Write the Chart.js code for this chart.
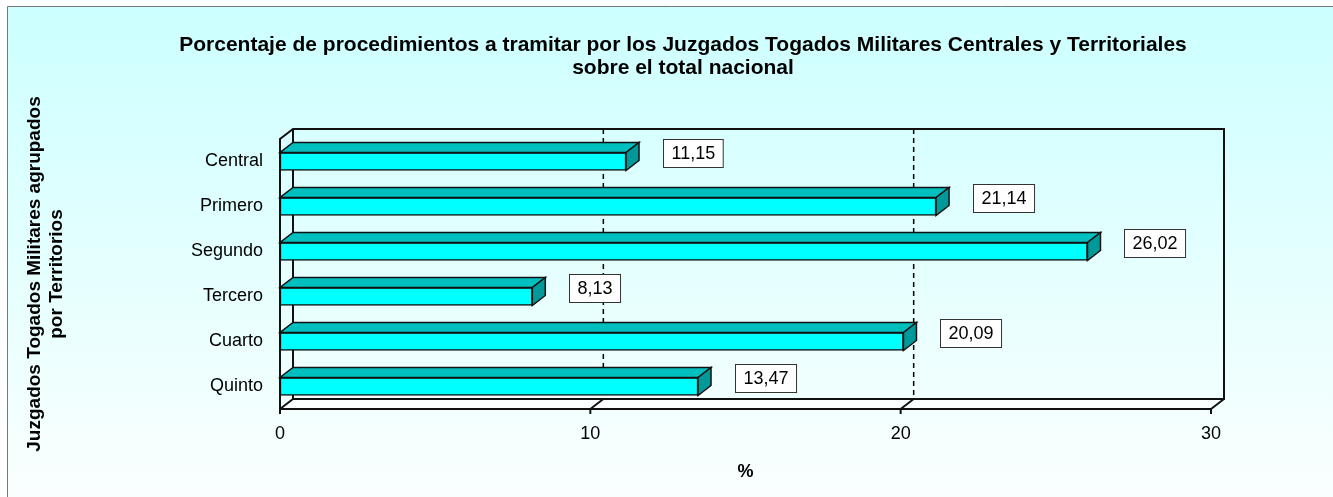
<!DOCTYPE html>
<html>
<head>
<meta charset="utf-8">
<script src="https://cdn.jsdelivr.net/npm/chart.js@4.4.0/dist/chart.umd.min.js"></script>
<style>
  html, body { margin: 0; padding: 0; background: #fff; overflow: hidden; }
  #wrap { position: relative; width: 1333px; height: 497px; }
</style>
</head>
<body>
<div id="wrap"><canvas id="grafico"></canvas></div>
<script>
// datos
const territorios = ['Central', 'Primero', 'Segundo', 'Tercero', 'Cuarto', 'Quinto'];
const porcentajes = [11.15, 21.14, 26.02, 8.13, 20.09, 13.47];
const xMin = 0;
const xMax = 30;
const xPaso = 10;

const tituloGrafico = ['Porcentaje de procedimientos a tramitar por los Juzgados Togados Militares Centrales y Territoriales', 'sobre el total nacional'];
const tituloEjeY = ['Juzgados Togados Militares agrupados', 'por Territorios'];
const tituloEjeX = '%';

const FUENTE = '"Liberation Sans", Arial, sans-serif';
Chart.defaults.font.family = FUENTE;
Chart.defaults.font.size = 18;
Chart.defaults.color = '#000';

// profundidad del efecto 3D
const DX = 13, DY = 10;

function formatoES(v) {
    return v.toFixed(2).replace('.', ',');
}

const efecto3d = {
    id: 'efecto3d',
    beforeDraw(chart) {
        const ctx = chart.ctx;
        const w = chart.width, h = chart.height;
        ctx.save();
        ctx.fillStyle = '#fff';
        ctx.fillRect(0, 0, w, h);
        const grad = ctx.createLinearGradient(0, 6, 0, h);
        grad.addColorStop(0, '#ccffff');
        grad.addColorStop(1, '#fafffe');
        ctx.fillStyle = grad;
        ctx.fillRect(7, 6, w - 7, h - 6);
        ctx.strokeStyle = '#777';
        ctx.lineWidth = 1;
        ctx.beginPath();
        ctx.moveTo(7.5, h);
        ctx.lineTo(7.5, 6.5);
        ctx.lineTo(w, 6.5);
        ctx.stroke();
        ctx.restore();
    },
    beforeDatasetsDraw(chart) {
        const ctx = chart.ctx;
        const { left, right, top, bottom } = chart.chartArea;
        const xs = chart.scales.x;
        ctx.save();
        // suelo
        ctx.fillStyle = 'rgba(255,255,255,0.7)';
        ctx.beginPath();
        ctx.moveTo(left, bottom);
        ctx.lineTo(right, bottom);
        ctx.lineTo(right + DX, bottom - DY);
        ctx.lineTo(left + DX, bottom - DY);
        ctx.closePath();
        ctx.fill();

        // lineas de division punteadas en la pared del fondo
        ctx.strokeStyle = '#000';
        ctx.lineWidth = 1.5;
        ctx.setLineDash([5, 4]);
        for (let v = xMin + xPaso; v < xMax; v += xPaso) {
            const px = xs.getPixelForValue(v) + DX;
            ctx.beginPath();
            ctx.moveTo(px, top - DY);
            ctx.lineTo(px, bottom - DY);
            ctx.stroke();
        }
        ctx.setLineDash([]);

        // aristas de las paredes
        ctx.strokeStyle = '#111';
        ctx.lineWidth = 2;
        ctx.beginPath();
        ctx.moveTo(left, bottom);
        ctx.lineTo(left, top);
        ctx.lineTo(left + DX, top - DY);
        ctx.lineTo(right + DX, top - DY);
        ctx.lineTo(right + DX, bottom - DY);
        ctx.lineTo(left + DX, bottom - DY);
        ctx.lineTo(left + DX, top - DY);
        ctx.moveTo(left, bottom);
        ctx.lineTo(right, bottom);
        ctx.stroke();

        for (let v = xMin; v <= xMax; v += xPaso) {
            const px = xs.getPixelForValue(v);
            ctx.beginPath();
            ctx.moveTo(px, bottom);
            ctx.lineTo(px + DX, bottom - DY);
            ctx.moveTo(px, bottom);
            ctx.lineTo(px, bottom + 5);
            ctx.stroke();
        }
        ctx.restore();
    },
    afterDatasetsDraw(chart) {
        const ctx = chart.ctx;
        const meta = chart.getDatasetMeta(0);
        ctx.save();
        ctx.lineWidth = 1.5;
        ctx.strokeStyle = '#111';
        meta.data.forEach((bar, i) => {
            const x0 = bar.base, x1 = bar.x;
            const yT = bar.y - bar.height / 2, yB = bar.y + bar.height / 2;
            // cara superior
            ctx.fillStyle = '#00bfbf';
            ctx.beginPath();
            ctx.moveTo(x0, yT);
            ctx.lineTo(x1, yT);
            ctx.lineTo(x1 + DX, yT - DY);
            ctx.lineTo(x0 + DX, yT - DY);
            ctx.closePath();
            ctx.fill();
            ctx.stroke();
            // cara lateral
            ctx.fillStyle = '#009999';
            ctx.beginPath();
            ctx.moveTo(x1, yT);
            ctx.lineTo(x1 + DX, yT - DY);
            ctx.lineTo(x1 + DX, yB - DY);
            ctx.lineTo(x1, yB);
            ctx.closePath();
            ctx.fill();
            ctx.stroke();

            // etiqueta con el valor
            const txt = formatoES(porcentajes[i]);
            ctx.font = '18px ' + FUENTE;
            const tw = ctx.measureText(txt).width;
            const bw = tw + 16, bh = 28;
            const bx = Math.round(x1 + 37) + 0.5;
            const by = Math.round(bar.y - 9 - bh / 2) + 0.5;
            ctx.fillStyle = '#fff';
            ctx.fillRect(bx, by, bw, bh);
            ctx.lineWidth = 1;
            ctx.strokeStyle = '#333';
            ctx.strokeRect(bx, by, bw, bh);
            ctx.fillStyle = '#000';
            ctx.textAlign = 'center';
            ctx.textBaseline = 'middle';
            ctx.fillText(txt, bx + bw / 2, by + bh / 2 + 1);
            ctx.lineWidth = 1.5;
            ctx.strokeStyle = '#111';
        });
        ctx.restore();
    }
};

const chartConfig = {
    type: 'bar',
    data: {
        labels: territorios,
        datasets: [{
            label: 'Porcentaje',
            data: porcentajes,
            backgroundColor: '#00ffff',
            borderColor: '#111',
            borderWidth: 1.5,
            borderSkipped: false,
            barThickness: 18
        }]
    },
    options: {
        indexAxis: 'y',
        responsive: true,
        maintainAspectRatio: false,
        animation: false,
        layout: {
            padding: { left: 33, right: 0, top: 0, bottom: 0 }
        },
        plugins: {
            legend: { display: false },
            tooltip: { enabled: false },
            title: {
                display: true,
                text: tituloGrafico,
                font: { size: 21, weight: 'bold', lineHeight: '23px' },
                color: '#000',
                padding: { top: 34, bottom: 59 }
            }
        },
        scales: {
            x: {
                type: 'linear',
                min: xMin,
                max: xMax,
                ticks: { stepSize: xPaso, padding: 14, color: '#000' },
                grid: { display: false, drawTicks: false },
                border: { display: false },
                title: {
                    display: true,
                    text: tituloEjeX,
                    font: { size: 18, weight: 'bold', lineHeight: '22px' },
                    color: '#000',
                    padding: { top: 0, bottom: 14 }
                },
                afterFit(scale) { scale.height = 88; }
            },
            y: {
                type: 'category',
                position: 'left',
                ticks: { padding: 17, color: '#000' },
                grid: { display: false, drawTicks: false },
                border: { display: false },
                title: {
                    display: true,
                    text: tituloEjeY,
                    font: { size: 19, weight: 'bold', lineHeight: '22px' },
                    color: '#000',
                    padding: { top: -9, bottom: 0 }
                },
                afterFit(scale) { scale.width = 247; }
            },
            derecha: {
                type: 'linear',
                position: 'right',
                display: true,
                ticks: { display: false },
                grid: { display: false, drawTicks: false },
                border: { display: false },
                afterFit(scale) { scale.width = 122; }
            }
        }
    },
    plugins: [efecto3d]
};

const chart = new Chart(document.getElementById('grafico'), chartConfig);
</script>
</body>
</html>
